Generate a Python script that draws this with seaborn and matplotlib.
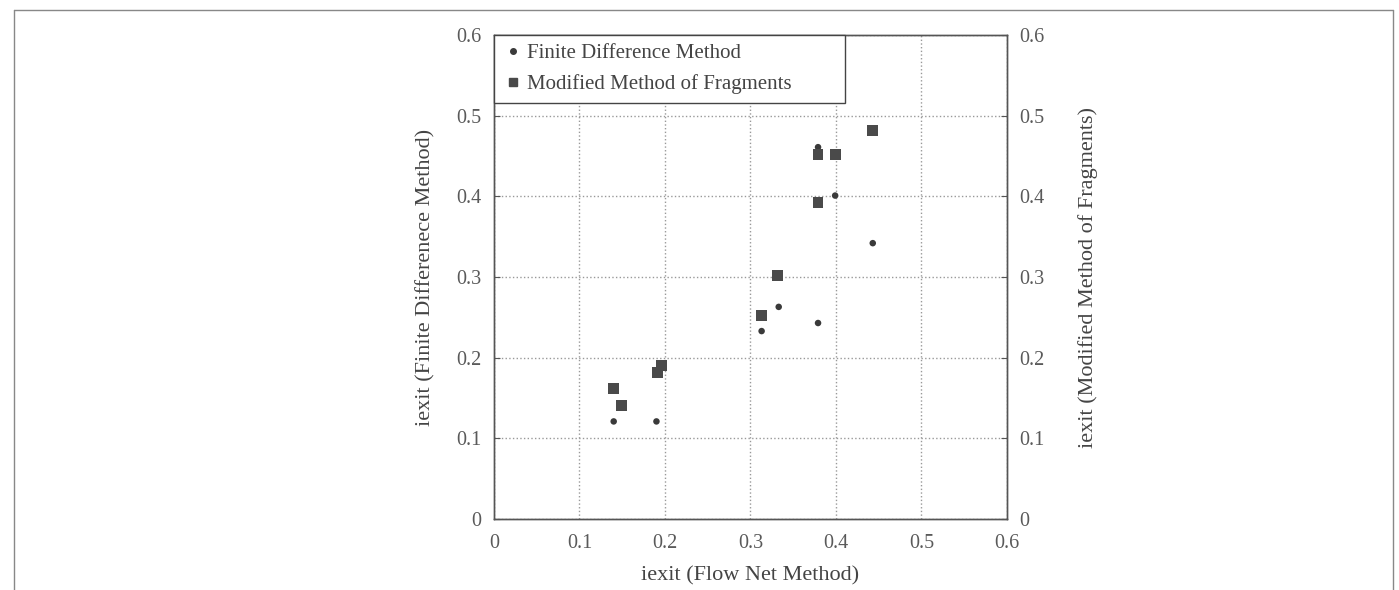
import matplotlib
matplotlib.use("Agg")
import matplotlib.pyplot as plt
import seaborn as sns
import pandas as pd
from matplotlib.lines import Line2D

# Data
fdm_x = [0.14, 0.19, 0.313, 0.333, 0.379, 0.379, 0.399, 0.443]
fdm_y = [0.121, 0.121, 0.233, 0.263, 0.243, 0.461, 0.401, 0.342]
mmf_x = [0.14, 0.149, 0.191, 0.196, 0.313, 0.332, 0.379, 0.379, 0.399, 0.443]
mmf_y = [0.162, 0.141, 0.182, 0.19, 0.252, 0.302, 0.392, 0.452, 0.452, 0.482]
ticks = [0, 0.1, 0.2, 0.3, 0.4, 0.5, 0.6]
tick_labels = ["0", "0.1", "0.2", "0.3", "0.4", "0.5", "0.6"]

sns.set_style("white")
plt.rcParams["font.family"] = ["Liberation Serif", "DejaVu Serif"]

fig = plt.figure(figsize=(13.99, 5.90), dpi=100)
ax = fig.add_axes([0.3531, 0.1203, 0.3667, 0.8203])
ax2 = ax.twinx()

fdm = pd.DataFrame({"x": fdm_x, "y": fdm_y})
mmf = pd.DataFrame({"x": mmf_x, "y": mmf_y})

sns.scatterplot(data=fdm, x="x", y="y", ax=ax, marker="o", s=22,
                color="#3a3a3a", edgecolor="none", zorder=3)
sns.scatterplot(data=mmf, x="x", y="y", ax=ax2, marker="s", s=60,
                color="#4a4a4a", edgecolor="none", zorder=3)

for a in (ax, ax2):
    a.set_xlim(0, 0.6)
    a.set_ylim(0, 0.6)
    a.set_yticks(ticks)
    a.set_yticklabels(tick_labels)
    for sp in a.spines.values():
        sp.set_color("#555555")
        sp.set_linewidth(1.0)
    a.tick_params(colors="#555555", labelcolor="#5a5a5a", labelsize=14.5,
                  direction="in", length=4)
ax.tick_params(axis="y", pad=9)
ax2.tick_params(axis="y", pad=9)
ax.tick_params(axis="x", pad=11)

ax.set_xticks(ticks)
ax.set_xticklabels(tick_labels)
ax.grid(True, linestyle=":", color="#999999", linewidth=1.0)
ax.set_axisbelow(True)

ax.set_xlabel("iexit (Flow Net Method)", fontsize=16, color="#444444", labelpad=9)
ax.set_ylabel("iexit (Finite Differenece Method)", fontsize=16, color="#444444", labelpad=15)
ax2.set_ylabel("iexit (Modified Method of Fragments)", fontsize=16, color="#444444", labelpad=24)

handles = [
    Line2D([], [], marker="o", linestyle="none", color="#3a3a3a", markersize=4),
    Line2D([], [], marker="s", linestyle="none", color="#4a4a4a", markersize=6),
]
leg = ax2.legend(handles, ["Finite Difference Method", "Modified Method of Fragments"],
                 loc="upper left", bbox_to_anchor=(0, 0.866, 0.684, 0.134),
                 mode="expand", borderaxespad=0, fancybox=False, frameon=True,
                 fontsize=15, handletextpad=0.2, handlelength=1.0,
                 labelspacing=0.55, borderpad=0.4)
leg.get_frame().set_edgecolor("#444444")
leg.get_frame().set_linewidth(1.0)
leg.get_frame().set_alpha(1)
for t in leg.get_texts():
    t.set_color("#444444")

# outer frame of the figure
fc = "#888888"
fig.add_artist(Line2D([14/1399, 1393/1399], [1-10/590, 1-10/590], transform=fig.transFigure, color=fc, lw=1))
fig.add_artist(Line2D([14/1399, 14/1399], [0, 1-10/590], transform=fig.transFigure, color=fc, lw=1))
fig.add_artist(Line2D([1393/1399, 1393/1399], [0, 1-10/590], transform=fig.transFigure, color=fc, lw=1))

fig.savefig("out.png", dpi=100)
